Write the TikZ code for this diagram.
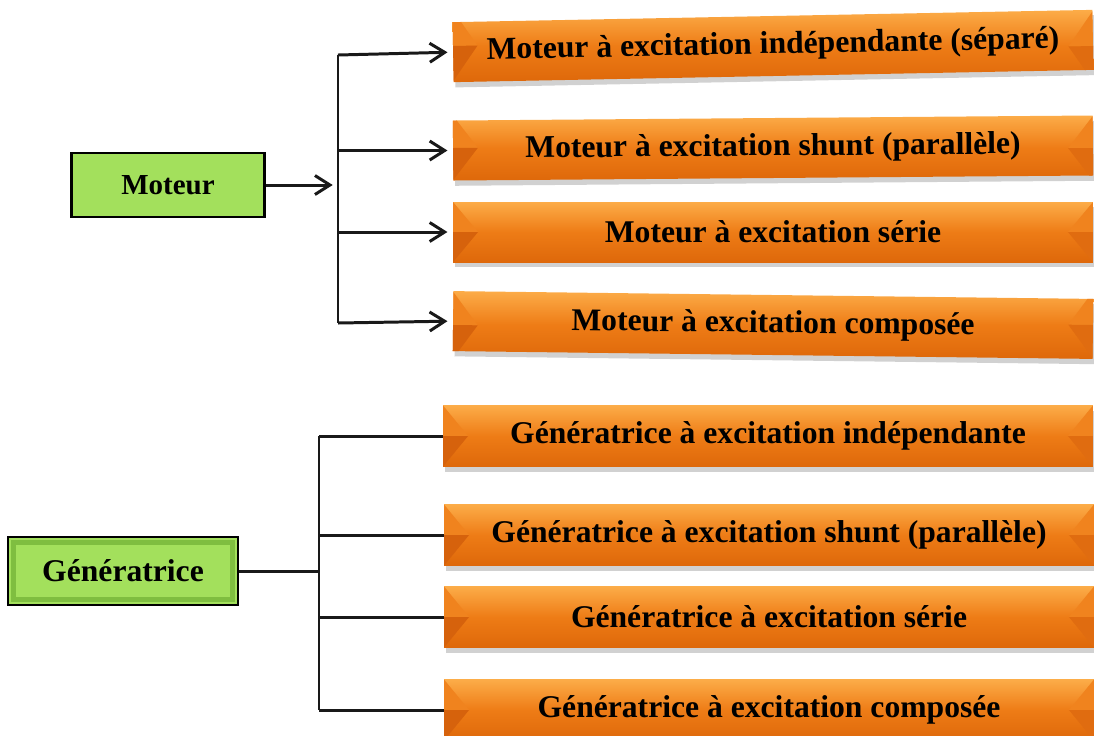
\documentclass[tikz,border=0pt]{standalone}
\usepackage{fontspec}
\setmainfont{Liberation Serif}
\usepackage{xcolor}
\usepackage{tikz}
\usetikzlibrary{arrows.meta,shadows}

\definecolor{vert}{RGB}{163,224,92}
\definecolor{vertfonce}{RGB}{104,168,46}
\definecolor{orHaut}{RGB}{252,172,72}
\definecolor{orMilieu}{RGB}{238,124,22}
\definecolor{orBas}{RGB}{222,104,10}
\definecolor{orBiseau}{RGB}{214,98,12}

\tikzset{
  genre/.style={draw=black, line width=1.6pt, fill=vert, minimum width=3.86cm,
    minimum height=1.28cm, inner sep=0pt, font=\bfseries},
  biseau/.style={path picture={
    \draw[vertfonce, line width=3pt, opacity=0.6]
      ([shift={(3pt,-3pt)}]path picture bounding box.north west) rectangle
      ([shift={(-3pt,3pt)}]path picture bounding box.south east);}},
  variante/.style={minimum width=12.8cm, minimum height=1.2cm, inner sep=0pt,
    font=\fontsize{18}{20}\selectfont\bfseries,
    top color=orHaut, bottom color=orBas, middle color=orMilieu,
    drop shadow={shadow xshift=1pt, shadow yshift=-3pt, opacity=0.3, fill=black!60},
    path picture={
      \fill[orMilieu!85!orHaut] (path picture bounding box.north west) --
        ([xshift=0.5cm]path picture bounding box.west) -- (path picture bounding box.west) -- cycle;
      \fill[orBiseau] (path picture bounding box.west) --
        ([xshift=0.5cm]path picture bounding box.west) -- (path picture bounding box.south west) -- cycle;
      \fill[orMilieu!85!orHaut] (path picture bounding box.north east) --
        ([xshift=-0.5cm]path picture bounding box.east) -- (path picture bounding box.east) -- cycle;
      \fill[orBiseau!60!orMilieu] (path picture bounding box.east) --
        ([xshift=-0.5cm]path picture bounding box.east) -- (path picture bounding box.south east) -- cycle;
    }},
  trait/.style={line width=1.7pt, black!90},
  fleche/.style={trait, -{Straight Barb[length=3mm,width=3.8mm]}, shorten >=3pt}
}

\begin{document}
\begin{tikzpicture}[x=0.02cm,y=-0.02cm]
\useasboundingbox (0,0) rectangle (1094,735);
  \node[genre, font=\fontsize{16.5}{18}\selectfont\bfseries] (moteur) at (168,185) {Moteur};
  \node[variante, rotate=1.1] (m1) at (773,46) {Moteur à excitation indépendante (séparé)};
  \node[variante, rotate=0.45] (m2) at (773,148) {Moteur à excitation shunt (parallèle)};
  \node[variante] (m3) at (773,232) {Moteur à excitation série};
  \node[variante, rotate=-0.7] (m4) at (773,325) {Moteur à excitation composée};
  \coordinate (mt) at (338,55);
  \coordinate (mb) at (338,323);
  \draw[trait] (mt) -- (mb);
  \draw[fleche] (moteur.east) -- (moteur.east -| mt);
  \draw[fleche] (mt) -- (m1.west);
  \draw[fleche] (mt |- m2.west) -- (m2.west);
  \draw[fleche] (mt |- m3.west) -- (m3.west);
  \draw[fleche] (mb) -- (m4.west);

  \node[genre, biseau, minimum width=4.6cm, minimum height=1.36cm,
    font=\fontsize{18}{20}\selectfont\bfseries] (gen) at (123,571) {Génératrice};
  \node[variante, minimum width=13cm, minimum height=1.22cm] (g1) at (768,436) {Génératrice à excitation indépendante};
  \node[variante, minimum width=13cm, minimum height=1.22cm] (g2) at (769,535) {Génératrice à excitation shunt (parallèle)};
  \node[variante, minimum width=13cm, minimum height=1.22cm] (g3) at (769,617) {Génératrice à excitation série};
  \node[variante, minimum width=13cm, minimum height=1.22cm] (g4) at (769,710) {Génératrice à excitation composée};
  \coordinate (gt) at (319,436);
  \draw[trait] (gt) -- (gt |- g4.west);
  \draw[trait] (gen.east) -- (gen.east -| gt);
  \draw[trait] (gt) -- (g1.west);
  \draw[trait] (gt |- g2.west) -- (g2.west);
  \draw[trait] (gt |- g3.west) -- (g3.west);
  \draw[trait] (gt |- g4.west) -- (g4.west);
\end{tikzpicture}
\end{document}
